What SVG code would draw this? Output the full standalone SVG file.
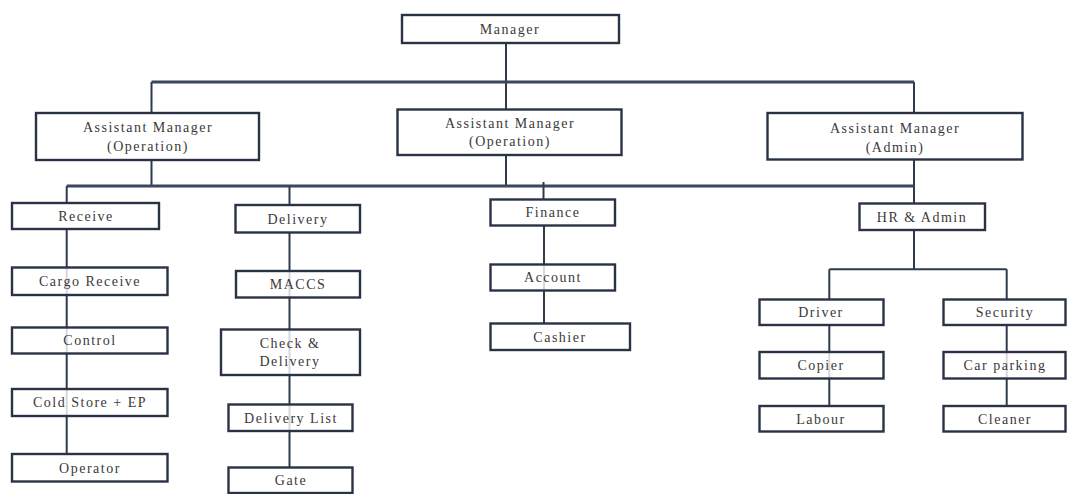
<svg xmlns="http://www.w3.org/2000/svg" width="1074" height="494" viewBox="0 0 1074 494">
<style>
.box{fill:#ffffff;fill-opacity:0.8;stroke:#2a3245;stroke-width:2.4}
.t{font-family:"Liberation Serif","Times New Roman",serif;font-size:14px;fill:#3a3a3a;text-anchor:middle;letter-spacing:1.5px}
.ln{stroke:#2f3a4c;stroke-width:2;fill:none}
.bus{stroke:#3a4659;stroke-width:3;fill:none}
</style>
<rect width="1074" height="494" fill="#ffffff"/>
<g id="connectors">
<line class="ln" x1="506" y1="43" x2="506" y2="109"/>
<line class="bus" x1="151.5" y1="82" x2="914" y2="82"/>
<line class="ln" x1="151.5" y1="82" x2="151.5" y2="113"/>
<line class="ln" x1="914" y1="82" x2="914" y2="113"/>
<line class="ln" x1="151.5" y1="160" x2="151.5" y2="186"/>
<line class="ln" x1="506" y1="155" x2="506" y2="186"/>
<line class="ln" x1="914" y1="159" x2="914" y2="203"/>
<line class="bus" x1="66.7" y1="186" x2="914" y2="186"/>
<line class="ln" x1="66.7" y1="186" x2="66.7" y2="203"/>
<line class="ln" x1="289.5" y1="186" x2="289.5" y2="205"/>
<line class="ln" x1="543.5" y1="182" x2="543.5" y2="199"/>
<line class="ln" x1="66.7" y1="229" x2="66.7" y2="454"/>
<line class="ln" x1="289.5" y1="232" x2="289.5" y2="468"/>
<line class="ln" x1="544" y1="225" x2="544" y2="323"/>
<line class="ln" x1="914" y1="230" x2="914" y2="269.3"/>
<line class="ln" x1="829.3" y1="269.3" x2="1006.7" y2="269.3"/>
<line class="ln" x1="829.3" y1="269.3" x2="829.3" y2="406"/>
<line class="ln" x1="1006.7" y1="269.3" x2="1006.7" y2="406"/>
</g>
<g id="manager"><rect class="box" style="fill-opacity:1" x="402" y="15" width="217" height="28"/><text class="t" x="510" y="34">Manager</text></g>
<g id="am-operation-1"><rect class="box" style="fill-opacity:1" x="36" y="113" width="223" height="47"/><text class="t" x="148" y="132">Assistant Manager</text><text class="t" x="148" y="151">(Operation)</text></g>
<g id="am-operation-2"><rect class="box" style="fill-opacity:1" x="397.5" y="109.5" width="224" height="45.5"/><text class="t" x="510" y="128">Assistant Manager</text><text class="t" x="510" y="146">(Operation)</text></g>
<g id="am-admin"><rect class="box" style="fill-opacity:1" x="767.5" y="113" width="255" height="46.5"/><text class="t" x="895" y="133">Assistant Manager</text><text class="t" x="895" y="152">(Admin)</text></g>
<g id="receive"><rect class="box" style="fill-opacity:1" x="12" y="203" width="147" height="26"/><text class="t" x="86" y="221">Receive</text></g>
<g id="delivery"><rect class="box" style="fill-opacity:1" x="235.5" y="205" width="124.5" height="27.5"/><text class="t" x="298" y="224">Delivery</text></g>
<g id="finance"><rect class="box" style="fill-opacity:1" x="490.5" y="199.5" width="124.5" height="26"/><text class="t" x="553" y="217">Finance</text></g>
<g id="hr-admin"><rect class="box" style="fill-opacity:1" x="859.5" y="203.5" width="125.5" height="26.5"/><text class="t" x="922" y="222">HR &amp; Admin</text></g>
<g id="cargo-receive"><rect class="box" x="12" y="267.5" width="155.5" height="27.5"/><text class="t" x="90" y="286">Cargo Receive</text></g>
<g id="control"><rect class="box" x="12" y="327.5" width="155.5" height="26"/><text class="t" x="90" y="345">Control</text></g>
<g id="cold-store"><rect class="box" x="12" y="389" width="155.5" height="27"/><text class="t" x="90" y="407">Cold Store + EP</text></g>
<g id="operator"><rect class="box" style="fill-opacity:1" x="12" y="454" width="155.5" height="27.5"/><text class="t" x="90" y="473">Operator</text></g>
<g id="maccs"><rect class="box" x="236" y="271" width="124" height="26.5"/><text class="t" x="298" y="289">MACCS</text></g>
<g id="check-delivery"><rect class="box" x="221" y="329.5" width="139" height="45.5"/><text class="t" x="290" y="348">Check &amp;</text><text class="t" x="290" y="366">Delivery</text></g>
<g id="delivery-list"><rect class="box" x="228.5" y="404.5" width="124" height="26.5"/><text class="t" x="291" y="423">Delivery List</text></g>
<g id="gate"><rect class="box" style="fill-opacity:1" x="228.5" y="467.5" width="124" height="25.5"/><text class="t" x="291" y="485">Gate</text></g>
<g id="account"><rect class="box" x="490.5" y="264.5" width="124.5" height="26"/><text class="t" x="553" y="282">Account</text></g>
<g id="cashier"><rect class="box" style="fill-opacity:1" x="490.5" y="323.5" width="139.5" height="26.5"/><text class="t" x="560" y="342">Cashier</text></g>
<g id="driver"><rect class="box" style="fill-opacity:1" x="759.5" y="299.5" width="124" height="25.5"/><text class="t" x="821" y="317">Driver</text></g>
<g id="copier"><rect class="box" x="759.5" y="352" width="124" height="26.5"/><text class="t" x="821" y="370">Copier</text></g>
<g id="labour"><rect class="box" style="fill-opacity:1" x="759.5" y="406" width="124" height="25.5"/><text class="t" x="821" y="424">Labour</text></g>
<g id="security"><rect class="box" style="fill-opacity:1" x="943.5" y="299.5" width="122" height="25.5"/><text class="t" x="1005" y="317">Security</text></g>
<g id="car-parking"><rect class="box" x="943.5" y="352" width="122" height="26.5"/><text class="t" x="1005" y="370">Car parking</text></g>
<g id="cleaner"><rect class="box" style="fill-opacity:1" x="943.5" y="406" width="122" height="25.5"/><text class="t" x="1005" y="424">Cleaner</text></g>
</svg>
